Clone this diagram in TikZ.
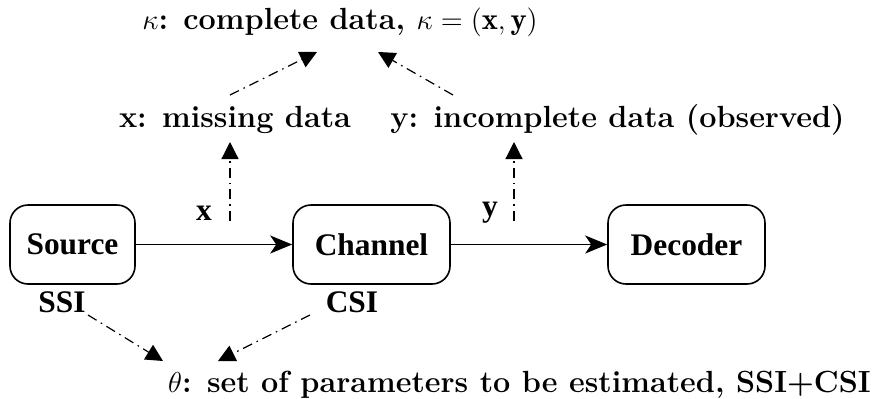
\documentclass[tikz,border=0pt]{standalone}
\usepackage{fontspec}
\newfontfamily\timesfont{Liberation Serif}
\usetikzlibrary{arrows.meta,positioning}
\tikzset{
  block/.style={draw,line width=0.8pt,rounded corners=9pt,minimum height=39.5pt,inner sep=0pt,
    font=\timesfont\fontsize{15.7}{18}\selectfont\bfseries},
  tlabel/.style={inner sep=0pt,font=\timesfont\fontsize{15.7}{18}\selectfont\bfseries},
  note/.style={inner sep=0pt,font=\fontsize{15.3}{18}\selectfont\bfseries},
  flow/.style={line width=0.75pt,-{Stealth[length=11pt,width=9pt,inset=3pt]}},
  info/.style={line width=0.6pt,dash pattern=on 5pt off 2.5pt on 0.8pt off 2.5pt,
    -{Triangle[length=8.5pt,width=8.5pt]}}
}
\begin{document}
\begin{tikzpicture}[x=0.5pt,y=-0.5pt]
\useasboundingbox (0,0) rectangle (883,398);
% blocks of the chain
\node[block,minimum width=62.5pt] (source) at (72.5,244.5) {Source};
\node[block,minimum width=78.5pt] (channel) at (371.5,244.5) {Channel};
\node[block,minimum width=78.5pt] (decoder) at (686.5,244.5) {Decoder};
\draw[flow] (source) -- (channel);
\draw[flow] (channel) -- (decoder);
% labels
\node[tlabel] (xlab) at (204,213) {x};
\node[tlabel] (ylab) at (490,213) {y};
\node[tlabel] (ssi) at (62,302) {SSI};
\node[tlabel] (csi) at (352,302) {CSI};
\node[note] (missing) at (235,120) {x: missing data};
\node[note] (incomplete) at (617.5,120) {y: incomplete data (observed)};
\node[note] (complete) at (340,22) {$\kappa$: complete data, $\kappa=(\mathbf{x},\mathbf{y})$};
\node[note] (theta) at (519.5,385) {$\theta$: set of parameters to be estimated, SSI+CSI};
% ends of the dash-dotted arrows
\coordinate (xfoot) at (230,221);
\coordinate (yfoot) at (514,221);
\coordinate (xtip) at (230,142);
\coordinate (ytip) at (514,142);
\coordinate (xout) at (230,95);
\coordinate (yout) at (453,95);
\coordinate (kleft) at (317,52);
\coordinate (kright) at (378,52);
\coordinate (ssiout) at (88,315);
\coordinate (csiout) at (310,315);
\coordinate (tleft) at (163,361);
\coordinate (tright) at (218,361);
\draw[info] (xfoot) -- (xtip);
\draw[info] (yfoot) -- (ytip);
\draw[info] (xout) -- (kleft);
\draw[info] (yout) -- (kright);
\draw[info] (ssiout) -- (tleft);
\draw[info] (csiout) -- (tright);
\end{tikzpicture}
\end{document}
